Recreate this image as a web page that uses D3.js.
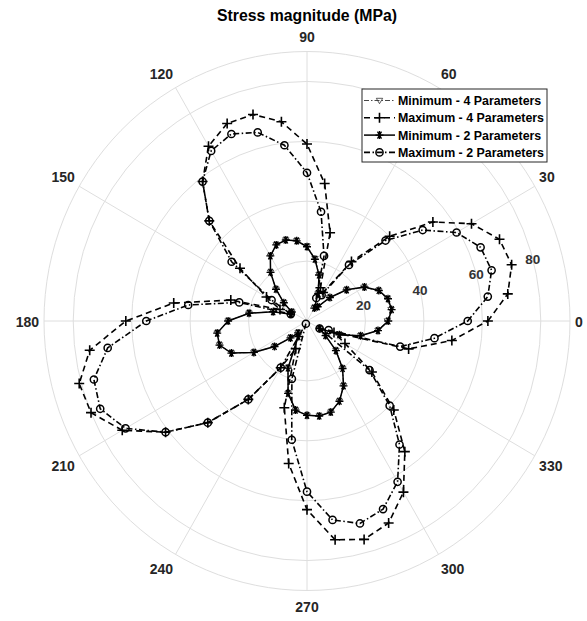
<!DOCTYPE html>
<html>
<head>
<meta charset="utf-8">
<script src="https://cdn.jsdelivr.net/npm/d3@7/dist/d3.min.js"></script>
<style>
  html, body { margin: 0; padding: 0; background: #fff; }
  svg { display: block; font-family: "Liberation Sans", Arial, sans-serif; }
</style>
</head>
<body>
<svg id="chart" width="587" height="621"></svg>
<script>
// Sample directions (degrees) shared by all four series
const angles = [0, 7.5, 15, 22.5, 30, 37.5, 45, 52.5, 60, 67.5, 75, 82.5,
  90, 97.5, 105, 112.5, 120, 127.5, 135, 142.5, 150, 157.5, 165, 172.5,
  180, 187.5, 195, 202.5, 210, 217.5, 225, 232.5, 240, 247.5, 255, 262.5,
  270, 277.5, 285, 292.5, 300, 307.5, 315, 322.5, 330, 337.5, 345, 352.5];

// Stress magnitude (MPa) at each direction
const min4 = [27.5, 29, 28.5, 26.5, 22.5, 17, 11, 6, 5, 10, 16, 21,
  25, 27, 28, 27.5, 25, 20.5, 15, 10, 6, 6, 12, 20,
  27, 31, 31, 28, 21, 14, 8, 5, 6, 17, 25, 30,
  31.5, 32, 31.5, 29, 25, 20, 14, 8, 5, 12, 19, 24.5];
const max4 = [61.9, 69.3, 72.5, 71.3, 65, 54.3, 40, 25, 11, 12, 30.5, 46.3,
  59.1, 67.1, 71.4, 71.4, 67.4, 58.7, 47.3, 28.9, 16, 10, 27, 46,
  62, 75, 80.7, 80, 73, 61, 48, 33, 18, 10, 30, 48,
  63, 73.7, 75.5, 73, 66, 55, 42, 28, 15, 10, 36, 50];
const min2 = [27.8, 29.2, 28.7, 26.6, 22.7, 17.1, 11.1, 6, 5, 10, 15.9, 20.8,
  24.8, 27, 28, 27.5, 25.1, 20.5, 15, 10, 6, 6, 12, 20,
  27, 31, 31, 28, 21, 14, 8, 5, 6, 17, 25, 30,
  31.5, 32, 31.5, 29, 25, 20, 14, 8, 5, 12, 19, 24.5];
const max2 = [55, 62.4, 65.4, 64.3, 59.1, 49.9, 38, 23.6, 10, 8.3, 22.5, 36.8,
  49.5, 59.2, 65.2, 67.6, 65.6, 58.7, 47.3, 32.5, 14, 6, 24, 41,
  55, 68.8, 75.5, 76.6, 71.7, 61, 48, 33, 18, 1, 20, 40,
  57, 67, 70, 68, 62, 52, 40, 27, 5, 8, 33, 44];

const thetaTicks = [0, 30, 60, 90, 120, 150, 180, 210, 240, 270, 300, 330];
const rTicks = [20, 40, 60, 80];
const rMax = 90;
const legendLabels = ["Minimum - 4 Parameters", "Maximum - 4 Parameters",
  "Minimum - 2 Parameters", "Maximum - 2 Parameters"];

const svg = d3.select("#chart");
const cx = 307, cy = 321;
// The plot area is very slightly taller than it is wide
const rx = d3.scaleLinear().domain([0, rMax]).range([0, 263]);
const ry = d3.scaleLinear().domain([0, rMax]).range([0, 269.5]);
const rad = d => d * Math.PI / 180;
const px = (a, r) => cx + rx(r) * Math.cos(rad(a));
const py = (a, r) => cy - ry(r) * Math.sin(rad(a));

const gridColor = "#dedede";
const g = svg.append("g");

// grid circles
g.selectAll("ellipse.grid").data(rTicks.concat([rMax])).join("ellipse")
  .attr("cx", cx).attr("cy", cy)
  .attr("rx", d => rx(d)).attr("ry", d => ry(d))
  .attr("fill", "none").attr("stroke", gridColor).attr("stroke-width", 1);

// spokes
g.selectAll("line.spoke").data(thetaTicks).join("line")
  .attr("x1", cx).attr("y1", cy)
  .attr("x2", d => px(d, rMax)).attr("y2", d => py(d, rMax))
  .attr("stroke", gridColor).attr("stroke-width", 1);

// angle labels: aligned to the outside of the rim, with a wider vertical gap
const thetaFont = 14, digitH = 10;
const padX = 5, padUp = 9.5, padDown = 11;
g.selectAll("text.theta").data(thetaTicks).join("text")
  .attr("x", d => px(d, rMax) + padX * Math.cos(rad(d)))
  .attr("y", d => {
    const s = Math.sin(rad(d));
    const y0 = py(d, rMax);
    if (s > 0.1) return y0 - padUp * s;
    if (s < -0.1) return y0 - padDown * s + digitH;
    return y0 + digitH / 2 + 1;
  })
  .attr("text-anchor", d => {
    const c = Math.cos(rad(d));
    return c > 0.1 ? "start" : (c < -0.1 ? "end" : "middle");
  })
  .attr("font-size", thetaFont).attr("font-weight", "bold").attr("fill", "#262626")
  .text(d => d);

// radial labels along the 15 degree direction
g.selectAll("text.rlab").data(rTicks).join("text")
  .attr("x", d => px(15, d)).attr("y", d => py(15, d))
  .attr("text-anchor", "middle").attr("dy", "0.36em")
  .attr("font-size", 13.5).attr("font-weight", "bold").attr("fill", "#333")
  .text(d => d);

// title
svg.append("text").attr("x", 307).attr("y", 21)
  .attr("text-anchor", "middle").attr("font-size", 15.8).attr("font-weight", "bold")
  .attr("fill", "#000").text("Stress magnitude (MPa)");

// marker shapes
function drawMarker(sel, type) {
  if (type === "tri") {
    sel.append("path").attr("d", "M-3.2,-2.2L3.2,-2.2L0,3.2Z")
      .attr("fill", "none").attr("stroke", "#333").attr("stroke-width", 0.8);
  } else if (type === "plus") {
    sel.append("path").attr("d", "M-5,0H5M0,-5V5")
      .attr("stroke", "#000").attr("stroke-width", 1.6);
  } else if (type === "star") {
    sel.append("path").attr("d", "M-4,0H4M-2,-3.5L2,3.5M-2,3.5L2,-3.5M0,-4V4")
      .attr("stroke", "#000").attr("stroke-width", 1.3);
  } else if (type === "circ") {
    sel.append("circle").attr("r", 3.6)
      .attr("fill", "none").attr("stroke", "#000").attr("stroke-width", 1.5);
  }
}

const series = [
  { name: legendLabels[0], values: min4, dash: "5,2,1.5,2", width: 0.9, color: "#333", marker: "tri" },
  { name: legendLabels[1], values: max4, dash: "6,4", width: 1.6, color: "#000", marker: "plus" },
  { name: legendLabels[2], values: min2, dash: null, width: 1.5, color: "#000", marker: "star" },
  { name: legendLabels[3], values: max2, dash: "6,2.5,1.5,2.5", width: 1.6, color: "#000", marker: "circ" }
];

const line = d3.line().curve(d3.curveLinearClosed);

series.forEach(s => {
  const pts = angles.map((a, i) => [px(a, s.values[i]), py(a, s.values[i])]);
  g.append("path").attr("d", line(pts))
    .attr("fill", "none").attr("stroke", s.color)
    .attr("stroke-width", s.width)
    .attr("stroke-dasharray", s.dash);
  g.selectAll(null).data(pts).join("g")
    .attr("transform", p => `translate(${p[0]},${p[1]})`)
    .each(function () { drawMarker(d3.select(this), s.marker); });
});

// legend
const lg = svg.append("g").attr("transform", "translate(362,89)");
lg.append("rect").attr("width", 185).attr("height", 73)
  .attr("fill", "#fff").attr("stroke", "#262626").attr("stroke-width", 1);
series.forEach((s, i) => {
  const y = 11.5 + i * 17.3;
  lg.append("line").attr("x1", 2).attr("x2", 33).attr("y1", y).attr("y2", y)
    .attr("stroke", s.color).attr("stroke-width", s.width)
    .attr("stroke-dasharray", s.dash);
  const m = lg.append("g").attr("transform", `translate(17.5,${y})`);
  drawMarker(m, s.marker);
  lg.append("text").attr("x", 36).attr("y", y).attr("dy", "0.36em")
    .attr("font-size", 12.4).attr("font-weight", "bold").attr("fill", "#000")
    .text(s.name);
});
</script>
</body>
</html>
